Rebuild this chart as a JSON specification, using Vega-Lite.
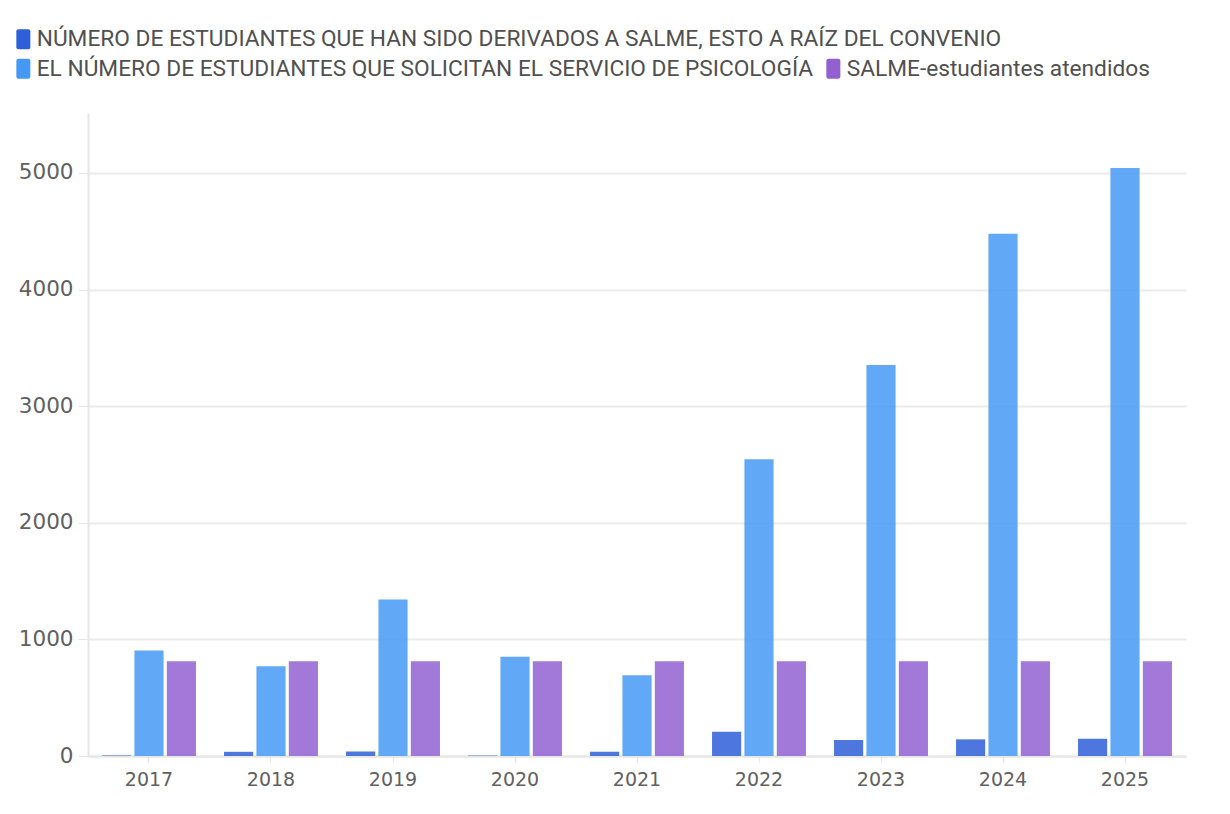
{
  "$schema": "https://vega.github.io/schema/vega-lite/v6.json",
  "autosize": {"type": "none"},
  "width": 1098,
  "height": 643,
  "padding": {"left": 88, "top": 113, "right": 44, "bottom": 58},
  "background": "white",
  "config": {
    "view": {"stroke": null},
    "axis": {
      "labelFont": "DejaVu Sans",
      "labelFontSize": 19,
      "labelColor": "#606060",
      "domainColor": "#e6e6e6",
      "tickColor": "#e6e6e6",
      "gridColor": "#ebebeb",
      "title": null
    },
    "legend": {
      "labelFont": "Roboto",
      "labelFontSize": 22.7,
      "labelColor": "#505050",
      "title": null,
      "labelLimit": 1200,
      "padding": 0
    }
  },
  "data": {
    "values": [
      {"anio": "2017", "serie": "NÚMERO DE ESTUDIANTES QUE HAN SIDO DERIVADOS A SALME, ESTO A RAÍZ DEL CONVENIO", "valor": 5},
      {"anio": "2018", "serie": "NÚMERO DE ESTUDIANTES QUE HAN SIDO DERIVADOS A SALME, ESTO A RAÍZ DEL CONVENIO", "valor": 36},
      {"anio": "2019", "serie": "NÚMERO DE ESTUDIANTES QUE HAN SIDO DERIVADOS A SALME, ESTO A RAÍZ DEL CONVENIO", "valor": 39},
      {"anio": "2020", "serie": "NÚMERO DE ESTUDIANTES QUE HAN SIDO DERIVADOS A SALME, ESTO A RAÍZ DEL CONVENIO", "valor": 5},
      {"anio": "2021", "serie": "NÚMERO DE ESTUDIANTES QUE HAN SIDO DERIVADOS A SALME, ESTO A RAÍZ DEL CONVENIO", "valor": 37},
      {"anio": "2022", "serie": "NÚMERO DE ESTUDIANTES QUE HAN SIDO DERIVADOS A SALME, ESTO A RAÍZ DEL CONVENIO", "valor": 208},
      {"anio": "2023", "serie": "NÚMERO DE ESTUDIANTES QUE HAN SIDO DERIVADOS A SALME, ESTO A RAÍZ DEL CONVENIO", "valor": 137},
      {"anio": "2024", "serie": "NÚMERO DE ESTUDIANTES QUE HAN SIDO DERIVADOS A SALME, ESTO A RAÍZ DEL CONVENIO", "valor": 143},
      {"anio": "2025", "serie": "NÚMERO DE ESTUDIANTES QUE HAN SIDO DERIVADOS A SALME, ESTO A RAÍZ DEL CONVENIO", "valor": 148},
      {"anio": "2017", "serie": "EL NÚMERO DE ESTUDIANTES QUE SOLICITAN EL SERVICIO DE PSICOLOGÍA", "valor": 904},
      {"anio": "2018", "serie": "EL NÚMERO DE ESTUDIANTES QUE SOLICITAN EL SERVICIO DE PSICOLOGÍA", "valor": 769},
      {"anio": "2019", "serie": "EL NÚMERO DE ESTUDIANTES QUE SOLICITAN EL SERVICIO DE PSICOLOGÍA", "valor": 1343},
      {"anio": "2020", "serie": "EL NÚMERO DE ESTUDIANTES QUE SOLICITAN EL SERVICIO DE PSICOLOGÍA", "valor": 852},
      {"anio": "2021", "serie": "EL NÚMERO DE ESTUDIANTES QUE SOLICITAN EL SERVICIO DE PSICOLOGÍA", "valor": 692},
      {"anio": "2022", "serie": "EL NÚMERO DE ESTUDIANTES QUE SOLICITAN EL SERVICIO DE PSICOLOGÍA", "valor": 2545},
      {"anio": "2023", "serie": "EL NÚMERO DE ESTUDIANTES QUE SOLICITAN EL SERVICIO DE PSICOLOGÍA", "valor": 3353},
      {"anio": "2024", "serie": "EL NÚMERO DE ESTUDIANTES QUE SOLICITAN EL SERVICIO DE PSICOLOGÍA", "valor": 4479},
      {"anio": "2025", "serie": "EL NÚMERO DE ESTUDIANTES QUE SOLICITAN EL SERVICIO DE PSICOLOGÍA", "valor": 5043},
      {"anio": "2017", "serie": "SALME-estudiantes atendidos", "valor": 812},
      {"anio": "2018", "serie": "SALME-estudiantes atendidos", "valor": 812},
      {"anio": "2019", "serie": "SALME-estudiantes atendidos", "valor": 812},
      {"anio": "2020", "serie": "SALME-estudiantes atendidos", "valor": 812},
      {"anio": "2021", "serie": "SALME-estudiantes atendidos", "valor": 812},
      {"anio": "2022", "serie": "SALME-estudiantes atendidos", "valor": 812},
      {"anio": "2023", "serie": "SALME-estudiantes atendidos", "valor": 812},
      {"anio": "2024", "serie": "SALME-estudiantes atendidos", "valor": 812},
      {"anio": "2025", "serie": "SALME-estudiantes atendidos", "valor": 812}
    ]
  },
  "encoding": {
    "x": {
      "field": "anio",
      "type": "ordinal",
      "scale": {"paddingInner": 0.23, "paddingOuter": 0.115},
      "axis": {"labelAngle": 0, "tickSize": 6, "labelPadding": 8, "domainWidth": 2}
    },
    "xOffset": {
      "field": "serie",
      "type": "nominal",
      "scale": {
        "domain": [
          "NÚMERO DE ESTUDIANTES QUE HAN SIDO DERIVADOS A SALME, ESTO A RAÍZ DEL CONVENIO",
          "EL NÚMERO DE ESTUDIANTES QUE SOLICITAN EL SERVICIO DE PSICOLOGÍA",
          "SALME-estudiantes atendidos"
        ],
        "paddingInner": 0.1
      }
    },
    "y": {
      "field": "valor",
      "type": "quantitative",
      "scale": {"domain": [0, 5514], "nice": false},
      "axis": {"values": [0, 1000, 2000, 3000, 4000, 5000], "format": "d", "labelFontSize": 21.5, "tickSize": 10, "labelPadding": 5, "domainWidth": 2, "gridWidth": 2}
    }
  },
  "layer": [
    {
      "transform": [{"filter": "datum.serie === 'NÚMERO DE ESTUDIANTES QUE HAN SIDO DERIVADOS A SALME, ESTO A RAÍZ DEL CONVENIO'"}],
      "mark": {"type": "bar", "opacity": 0.85},
      "encoding": {
        "color": {
          "field": "serie",
          "type": "nominal",
          "scale": {"domain": ["NÚMERO DE ESTUDIANTES QUE HAN SIDO DERIVADOS A SALME, ESTO A RAÍZ DEL CONVENIO"], "range": ["#2E5FD8"]},
          "legend": {
            "orient": "none", "legendX": -76, "legendY": -85, "labelOffset": 2,
            "symbolType": "M-0.5,-1 H0.5 Q0.7,-1 0.7,-0.8 V0.8 Q0.7,1 0.5,1 H-0.5 Q-0.7,1 -0.7,0.8 V-0.8 Q-0.7,-1 -0.5,-1 Z",
            "symbolSize": 400, "symbolOpacity": 1, "symbolStrokeWidth": 0
          }
        }
      }
    },
    {
      "transform": [{"filter": "datum.serie !== 'NÚMERO DE ESTUDIANTES QUE HAN SIDO DERIVADOS A SALME, ESTO A RAÍZ DEL CONVENIO'"}],
      "mark": {"type": "bar", "opacity": 0.85},
      "encoding": {
        "color": {
          "field": "serie",
          "type": "nominal",
          "scale": {"domain": ["EL NÚMERO DE ESTUDIANTES QUE SOLICITAN EL SERVICIO DE PSICOLOGÍA", "SALME-estudiantes atendidos"], "range": ["#4599F5", "#9260D1"]},
          "legend": {
            "orient": "none", "legendX": -76, "legendY": -56, "direction": "horizontal", "columnPadding": 8, "labelOffset": 2,
            "symbolType": "M-0.5,-1 H0.5 Q0.7,-1 0.7,-0.8 V0.8 Q0.7,1 0.5,1 H-0.5 Q-0.7,1 -0.7,0.8 V-0.8 Q-0.7,-1 -0.5,-1 Z",
            "symbolSize": 400, "symbolOpacity": 1, "symbolStrokeWidth": 0
          }
        }
      }
    }
  ],
  "resolve": {"scale": {"color": "independent"}, "legend": {"color": "independent"}}
}
